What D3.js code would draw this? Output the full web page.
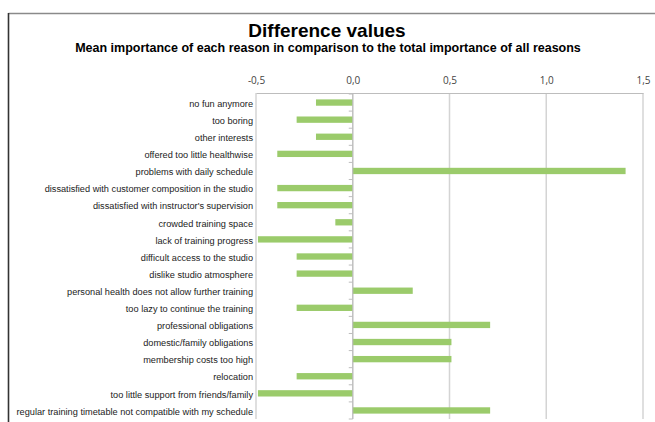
<!DOCTYPE html>
<html><head><meta charset="utf-8">
<script src="https://cdn.jsdelivr.net/npm/d3@7"></script>
<style>html,body{margin:0;padding:0;background:#fff;overflow:hidden}</style>
</head><body>
<svg id="chart" width="655" height="422"></svg>
<script>
const categories = [
  "no fun anymore",
  "too boring",
  "other interests",
  "offered too little healthwise",
  "problems with daily schedule",
  "dissatisfied with customer composition in the studio",
  "dissatisfied with instructor's supervision",
  "crowded training space",
  "lack of training progress",
  "difficult access to the studio",
  "dislike studio atmosphere",
  "personal health does not allow further training",
  "too lazy to continue the training",
  "professional obligations",
  "domestic/family obligations",
  "membership costs too high",
  "relocation",
  "too little support from friends/family",
  "regular training timetable not compatible with my schedule"
];
const values = [-0.19, -0.29, -0.19, -0.39, 1.41, -0.39, -0.39, -0.09, -0.49, -0.29, -0.29, 0.31, -0.29, 0.71, 0.51, 0.51, -0.29, -0.49, 0.71];
const tickValues = [-0.5, 0, 0.5, 1.0, 1.5];
const tickLabels = ["-0,5", "0,0", "0,5", "1,0", "1,5"];
const titleText = "Difference values";
const subtitleText = "Mean importance of each reason in comparison to the total importance of all reasons";

const svg = d3.select("#chart");
const x = d3.scaleLinear().domain([-0.5, 1.5]).range([256, 643]);
const y = d3.scaleBand().domain(categories).range([94, 419]).paddingInner(0.63).paddingOuter(0.315);

// chart border (only top & left visible)
svg.append("line").attr("x1", 8.5).attr("x2", 655).attr("y1", 13.5).attr("y2", 13.5)
  .attr("stroke", "#8a8a8a").attr("stroke-width", 1.5);
svg.append("line").attr("x1", 8.5).attr("x2", 8.5).attr("y1", 13).attr("y2", 422)
  .attr("stroke", "#333").attr("stroke-width", 1.6);

// titles
svg.append("text").attr("x", 327).attr("y", 37).attr("text-anchor", "middle")
  .attr("font-family", "Liberation Sans, Arial, sans-serif").attr("font-weight", "bold")
  .attr("font-size", 19).attr("fill", "#000").text(titleText);
svg.append("text").attr("x", 328).attr("y", 52).attr("text-anchor", "middle")
  .attr("font-family", "Liberation Sans, Arial, sans-serif").attr("font-weight", "bold")
  .attr("font-size", 12.5).attr("fill", "#000").text(subtitleText);

// gridlines
svg.append("g").selectAll("line").data(tickValues).join("line")
  .attr("x1", d => x(d)).attr("x2", d => x(d))
  .attr("y1", 93).attr("y2", 419)
  .attr("stroke", "#d4d4d4").attr("stroke-width", 1.5);

// top axis
const xAxis = d3.axisTop(x).tickValues(tickValues).tickFormat((d, i) => tickLabels[i]).tickSize(0).tickPadding(9);
const gx = svg.append("g").attr("transform", "translate(0,93)").call(xAxis);
gx.select(".domain").attr("stroke", "#bdbdbd").attr("stroke-width", 1);
gx.selectAll("text").attr("font-family", "Open Sans, sans-serif").attr("font-size", 10).attr("fill", "#444");

// bars
svg.append("g").selectAll("rect").data(values).join("rect")
  .attr("x", d => x(Math.min(0, d)))
  .attr("width", d => Math.abs(x(d) - x(0)))
  .attr("y", (d, i) => y(categories[i]))
  .attr("height", y.bandwidth())
  .attr("fill", "#9bcb6b");

// zero axis with category ticks
const x0 = x(0);
svg.append("line").attr("x1", x0).attr("x2", x0).attr("y1", 93).attr("y2", 419)
  .attr("stroke", "#bdbdbd").attr("stroke-width", 1);
const step = y.step();
svg.append("g").selectAll("line").data(d3.range(categories.length + 1)).join("line")
  .attr("x1", x0 - 4).attr("x2", x0)
  .attr("y1", i => 94 + i * step).attr("y2", i => 94 + i * step)
  .attr("stroke", "#bdbdbd").attr("stroke-width", 1);

// category labels
svg.append("g").selectAll("text").data(categories).join("text")
  .attr("x", 253).attr("y", d => y(d) + y.bandwidth() / 2 + 1)
  .attr("dy", "0.35em").attr("text-anchor", "end")
  .attr("font-family", "Liberation Sans, Arial, sans-serif").attr("font-size", 9.2)
  .attr("fill", "#222").text(d => d);
</script>
</body></html>
